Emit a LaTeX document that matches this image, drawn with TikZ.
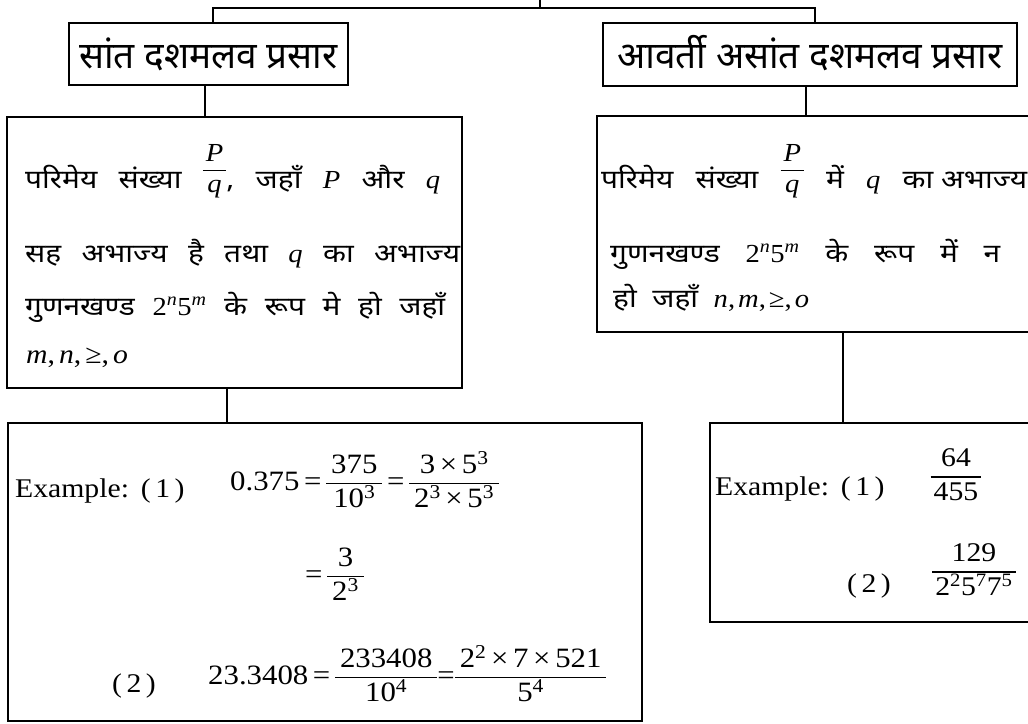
\documentclass[tikz,border=0pt]{standalone}
\usepackage{fontspec}
\setmainfont{Liberation Serif}[FakeStretch=1.1]
\newfontfamily\dev[Script=Devanagari,FakeStretch=1.15]{Noto Sans}
\newfontfamily\devt[Script=Devanagari]{Noto Sans}
\newcommand\mi[1]{{\rmfamily\itshape #1}}
\newcommand\sps[1]{\textsuperscript{#1}}
\newlength\frsep \setlength\frsep{3pt}
\newcommand\fr[2]{{\setlength\tabcolsep{\frsep}\setlength\arrayrulewidth{1.3pt}\begin{tabular}[c]{c}#1\\\hline #2\end{tabular}}}
\newcommand\pq{\raisebox{11pt}{\fr{\mi{P}}{\mi{q}}}}
\newcommand\tnm[2]{{\rmfamily 2\sps{\itshape #1}5\sps{\itshape #2}}}
\tikzset{
  box/.style={draw, line width=2.3pt, rectangle, inner sep=0pt},
  conn/.style={line width=2.8pt},
  txt/.style={anchor=base west, inner sep=0pt},
  dtx/.style={txt, font=\dev\fontsize{26}{30}\selectfont},
  mth/.style={txt, font=\fontsize{28}{33}\selectfont\setlength\frsep{5pt}},
  ttl/.style={anchor=base, inner sep=0pt, font=\devt\fontsize{37}{44}\selectfont},
}
\begin{document}
\begin{tikzpicture}[x=1pt,y=-1pt,font=\fontsize{27}{32}\selectfont]
\useasboundingbox (0,0) rectangle (1028,723);
\clip (0,0) rectangle (1028,723);
% boxes
\node[box, minimum width=279pt, minimum height=62pt] (t1) at (208.5,54) {};
\node[box, minimum width=414pt, minimum height=63pt] (t2) at (810,54.5) {};
\node[box, minimum width=455pt, minimum height=271pt] (c1) at (234.5,252.5) {};
\node[box, minimum width=463pt, minimum height=216pt] (c2) at (828.5,224) {};
\node[box, minimum width=634pt, minimum height=298pt] (e1) at (325,572) {};
\node[box, minimum width=350pt, minimum height=199pt] (e2) at (885,522.5) {};
% connectors
\coordinate (root) at (540,0);
\coordinate (bar) at (540,8);
\coordinate (k1) at (213,0);
\coordinate (k2) at (815,0);
\coordinate (k3) at (205,0);
\coordinate (k4) at (806,0);
\coordinate (k5) at (227,0);
\coordinate (k6) at (843,0);
\draw[conn] (root) -- (bar);
\draw[conn] (t1.north -| k1) |- (bar) -| (t2.north -| k2);
\draw[conn] (t1.south -| k3) -- (c1.north -| k3);
\draw[conn] (t2.south -| k4) -- (c2.north -| k4);
\draw[conn] (c1.south -| k5) -- (e1.north -| k5);
\draw[conn] (c2.south -| k6) -- (e2.north -| k6);
% titles
\node[ttl] (t1t) at (208.5,68) {सांत दशमलव प्रसार};
\node[ttl] (t2t) at (810,68) {आवर्ती असांत दशमलव प्रसार};
% left content
\node[dtx] (c1a) at (25,188) {\hbox to 415pt{परिमेय\hfill संख्या\hfill \pq,\hfill जहाँ\hfill \mi{P}\hfill और\hfill \mi{q}}};
\node[dtx] (c1b) at (25,262) {\hbox to 435pt{सह\hfill अभाज्य\hfill है\hfill तथा\hfill \mi{q}\hfill का\hfill अभाज्य}};
\node[dtx] (c1c) at (25,315) {\hbox to 420pt{गुणनखण्ड\hfill \tnm{n}{m}\hfill के\hfill रूप\hfill मे\hfill हो\hfill जहाँ}};
\node[txt] (c1d) at (26,363) {\mi{m},\kern4pt\mi{n},\kern4pt≥,\kern4pt\mi{o}};
% right content
\node[dtx] (c2a) at (601,188) {\hbox to 426pt{परिमेय\hfill संख्या\hfill \pq\hfill में\hfill \mi{q}\hfill का\ अभाज्य}};
\node[dtx] (c2b) at (610,262) {\hbox to 390pt{गुणनखण्ड\hfill \tnm{n}{m}\hfill के\hfill रूप\hfill में\hfill न}};
\node[dtx] (c2c) at (613,307) {हो\ \ जहाँ\ \ {\rmfamily\mi{n},\kern3pt\mi{m},\kern3pt≥,\kern3pt\mi{o}}};
% left examples
\node[txt] (e1a) at (15,497) {Example:\ \,(\,1\,)};
\node[mth] (e1m1) at (230,490) {0.375\,=\,\fr{375}{10\sps{3}}\,=\,\fr{3\,×\,5\sps{3}}{2\sps{3}\,×\,5\sps{3}}};
\node[mth] (e1m2) at (305,583) {=\,\fr{3}{2\sps{3}}};
\node[txt] (e1b) at (112,692) {(\,2\,)};
\node[mth] (e1m3) at (208,684) {23.3408\,=\,\fr{233408}{10\sps{4}}=\fr{2\sps{2}\,×\,7\,×\,521}{5\sps{4}}};
% right examples
\node[txt] (e2a) at (715,495) {Example:\ \,(\,1\,)};
\node[inner sep=0pt] (f1) at (956,477) {\fr{64}{455}};
\node[txt] (e2b) at (847,592) {(\,2\,)};
\node[inner sep=0pt] (f2) at (974,572) {\fr{129}{2\sps{2}5\sps{7}7\sps{5}}};
\end{tikzpicture}
\end{document}
